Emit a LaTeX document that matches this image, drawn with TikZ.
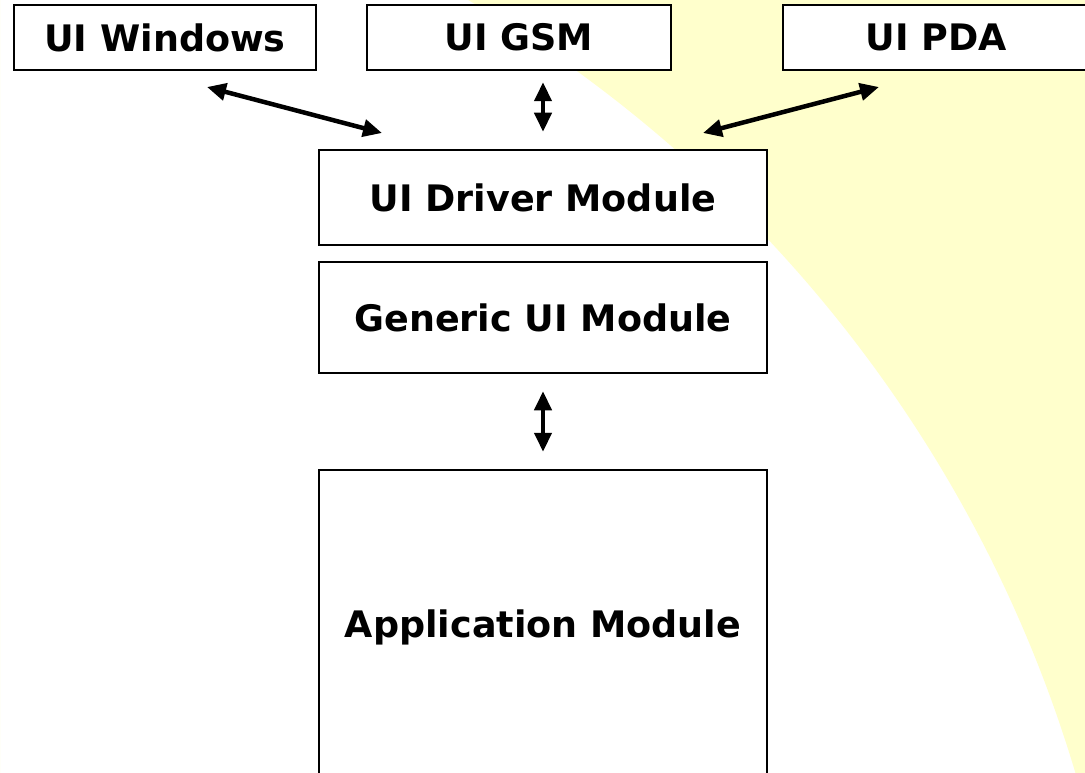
\documentclass[tikz,border=0pt]{standalone}
\usepackage{fontspec}
\setmainfont{DejaVu Sans}
\usetikzlibrary{arrows.meta,positioning,calc}

\definecolor{paleyellow}{RGB}{255,255,204}

\tikzset{
  modbox/.style={draw, line width=2.5pt, fill=white, inner sep=0pt,
    font=\fontsize{36.5}{40}\selectfont\bfseries},
  link/.style={line width=4.5pt, {Triangle[length=19pt,width=17pt]}-{Triangle[length=19pt,width=17pt]}}
}

\begin{document}
\begin{tikzpicture}[x=1pt,y=-1pt]
		\useasboundingbox (0,0) rectangle (1085,773);
		\clip (0,0) rectangle (1085,773);
		% background
		\fill[paleyellow, even odd rule] (0,0) rectangle (1085,773) (-208,1156) circle[radius=1339];
		% front ends
		\node [modbox, minimum width=302, minimum height=65] (win) at (165,37.5)	{UI\ Windows};
		\node [modbox, minimum width=304, minimum height=65] (gsm) at (519,37.5)	{UI\ GSM};
		\node [modbox, minimum width=306, minimum height=65] (pda) at (936,37.5)	{UI\ PDA};
		% modules
		\node [modbox, minimum width=448, minimum height=95] (drv) at (543,197.5)	{UI\ Driver Module};
		\node [modbox, minimum width=448, minimum height=111] (gen) at (543,317.5)	{Generic UI Module};
		\node [modbox, minimum width=448, minimum height=315] (app) at (543,627.5)	{Application Module};
		% arrow ends
		\coordinate (winend) at (207,87);
		\coordinate (drvwin) at (382,133);
		\coordinate (pdaend) at (879,87);
		\coordinate (drvpda) at (703,133);
		\draw [link] (winend) -- (drvwin);
		\draw [link] (pdaend) -- (drvpda);
		\draw [link, shorten <=11pt, shorten >=17pt] (drv.north |- gsm.south) -- (drv.north);
		\draw [link, shorten <=17pt, shorten >=17pt] (gen.south) -- (app.north);
\end{tikzpicture}
\end{document}
